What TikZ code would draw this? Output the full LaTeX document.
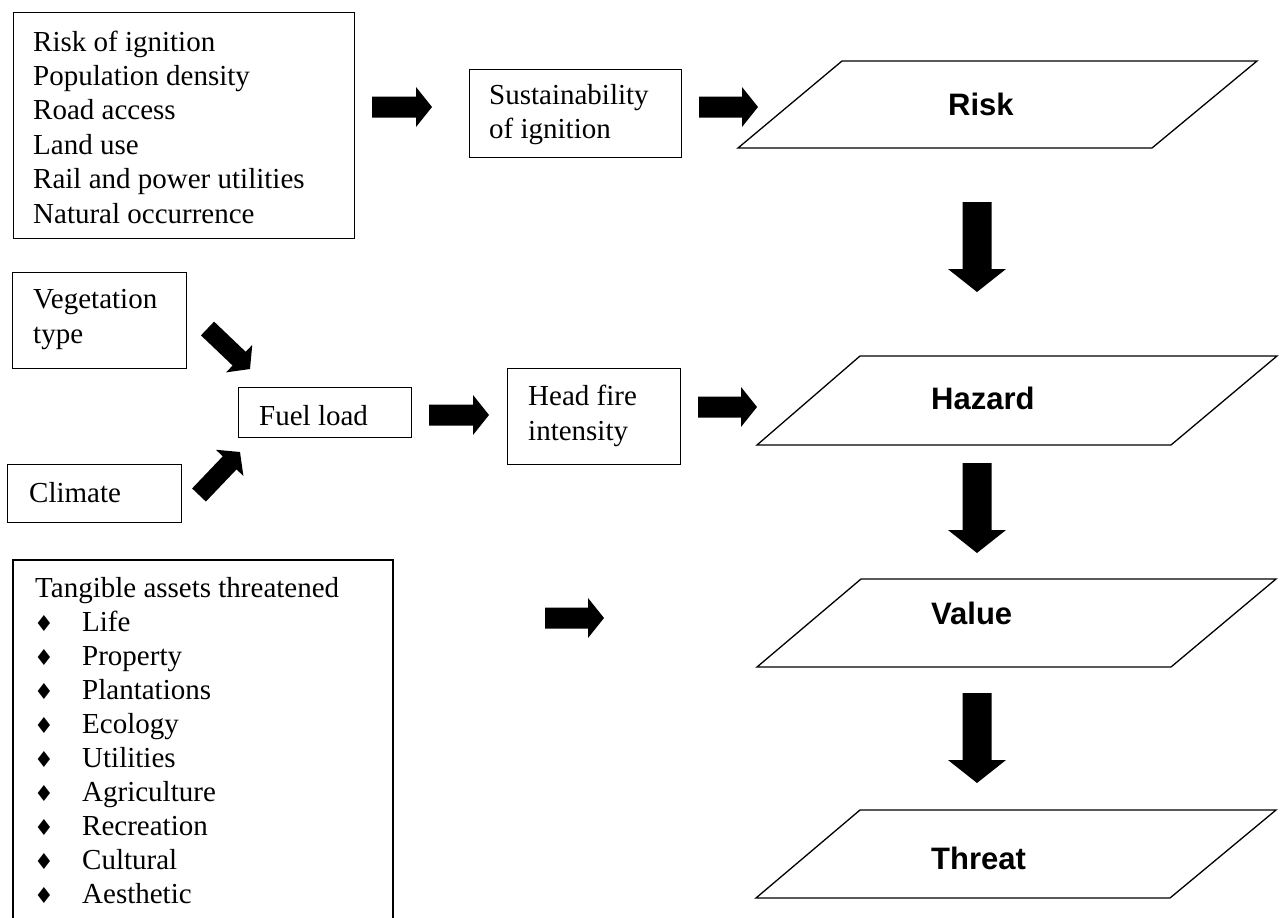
\documentclass[tikz,border=0pt]{standalone}
\usepackage{fontspec}
\setmainfont{Liberation Serif}
\newfontfamily\labelfont{Liberation Sans}
\newfontfamily\symfont{DejaVu Sans}
\usetikzlibrary{calc}
\tikzset{
  box/.style={draw, line width=1.3pt, inner sep=0pt, anchor=north west},
  para/.style={draw, line width=1.3pt, line join=miter},
  txt/.style={anchor=base west, inner sep=0pt, font=\fontsize{29}{34}\selectfont},
  lbl/.style={anchor=west, inner sep=0pt, font=\labelfont\bfseries\fontsize{31}{36}\selectfont},
  bul/.style={inner sep=0pt, font=\symfont\fontsize{22}{24}\selectfont},
}
% block arrow: #1 start, #2 end (tip), #3 shaft half width, #4 head half width, #5 head length
\newcommand{\blockarrow}[5]{%
  \coordinate (ba-base) at ($(#2)!#5!(#1)$);
  \fill ($(#1)!#3!90:(#2)$) -- ($(ba-base)!#3!90:(#2)$) -- ($(ba-base)!#4!90:(#2)$) -- (#2)
     -- ($(ba-base)!#4!-90:(#2)$) -- ($(ba-base)!#3!-90:(#2)$) -- ($(#1)!#3!-90:(#2)$) -- cycle;
}
\begin{document}
\begin{tikzpicture}[x=1pt,y=-1pt]
\useasboundingbox (0,0) rectangle (1280,918);

% ---------- boxes ----------
\node[box, minimum width=341pt, minimum height=226pt] (b1) at (13,12) {};
\node[box, minimum width=212pt, minimum height=88pt] (b2) at (469,69) {};
\node[box, minimum width=174pt, minimum height=96pt] (veg) at (12,272) {};
\node[box, minimum width=173pt, minimum height=50pt] (fuel) at (238,387) {};
\node[box, minimum width=174pt, minimum height=58pt] (clim) at (7,464) {};
\node[box, minimum width=173pt, minimum height=96pt] (head) at (507,368) {};
\draw[line width=1.3pt] (13,918) -- (13,560) -- (393,560) -- (393,918);

% ---------- box texts ----------
\foreach \t [count=\i] in {Risk of ignition, Population density, Road access, Land use, Rail and power utilities, Natural occurrence}
  \node[txt] (b1t\i) at (33,{51+34.4*(\i-1)}) {\t};
\node[txt] (b2t1) at (489,104) {Sustainability};
\node[txt] (b2t2) at (489,138) {of ignition};
\node[txt] (vegt1) at (33,308) {Vegetation};
\node[txt] (vegt2) at (33,343) {type};
\node[txt] (fuelt) at (259,425) {Fuel load};
\node[txt] (climt) at (29,502) {Climate};
\node[txt] (headt1) at (528,405) {Head fire};
\node[txt] (headt2) at (528,440) {intensity};
\node[txt] (tant0) at (35,597) {Tangible assets threatened};
\foreach \t [count=\i] in {Life, Property, Plantations, Ecology, Utilities, Agriculture, Recreation, Cultural, Aesthetic}{
  \node[bul] (tanb\i) at (44,{597+34*\i-8}) {♦};
  \node[txt] (tant\i) at (82,{597+34*\i}) {\t};
}

% ---------- parallelograms ----------
\draw[para] (842,61) coordinate (rTL) -- (1257,61) coordinate (rTR) -- (1152,148) coordinate (rBR) -- (738,148) coordinate (rBL) -- cycle;
\draw[para] (860,356) coordinate (hTL) -- (1277,356) coordinate (hTR) -- (1171,445) coordinate (hBR) -- (757,445) coordinate (hBL) -- cycle;
\draw[para] (861,579) coordinate (vTL) -- (1276,579) coordinate (vTR) -- (1171,667) coordinate (vBR) -- (757,667) coordinate (vBL) -- cycle;
\draw[para] (860,810) coordinate (tTL) -- (1276,810) coordinate (tTR) -- (1170,898) coordinate (tBR) -- (756,898) coordinate (tBL) -- cycle;
\node[lbl] (risk) at (948,104) {Risk};
\node[lbl] (hazard) at (931,398) {Hazard};
\node[lbl] (value) at (931,613) {Value};
\node[lbl] (threat) at (931,858) {Threat};

% ---------- block arrows ----------
\coordinate (a1s) at (372,107); \coordinate (a1e) at (432,107);
\coordinate (a2s) at (699,107); \coordinate (a2e) at (758,107);
\coordinate (a3s) at (429,415); \coordinate (a3e) at (489,415);
\coordinate (a4s) at (698,407); \coordinate (a4e) at (757,407);
\coordinate (a5s) at (545,618); \coordinate (a5e) at (604,618);
\coordinate (d1s) at (977,202); \coordinate (d1e) at (977,292);
\coordinate (d2s) at (977,463); \coordinate (d2e) at (977,553);
\coordinate (d3s) at (977,693); \coordinate (d3e) at (977,783);
\coordinate (g1s) at (207.5,328.5); \coordinate (g1e) at (250,369);
\coordinate (g2s) at (199,495); \coordinate (g2e) at (240,452);

\blockarrow{a1s}{a1e}{10.5pt}{20pt}{16pt}
\blockarrow{a2s}{a2e}{10.5pt}{20pt}{16pt}
\blockarrow{a3s}{a3e}{10.5pt}{20pt}{16pt}
\blockarrow{a4s}{a4e}{10.5pt}{20pt}{16pt}
\blockarrow{a5s}{a5e}{10.5pt}{20pt}{16pt}
\blockarrow{d1s}{d1e}{14.5pt}{29pt}{23pt}
\blockarrow{d2s}{d2e}{14.5pt}{29pt}{23pt}
\blockarrow{d3s}{d3e}{14.5pt}{29pt}{23pt}
\blockarrow{g1s}{g1e}{9.5pt}{19pt}{15pt}
\blockarrow{g2s}{g2e}{9.5pt}{19pt}{15pt}
\end{tikzpicture}
\end{document}
